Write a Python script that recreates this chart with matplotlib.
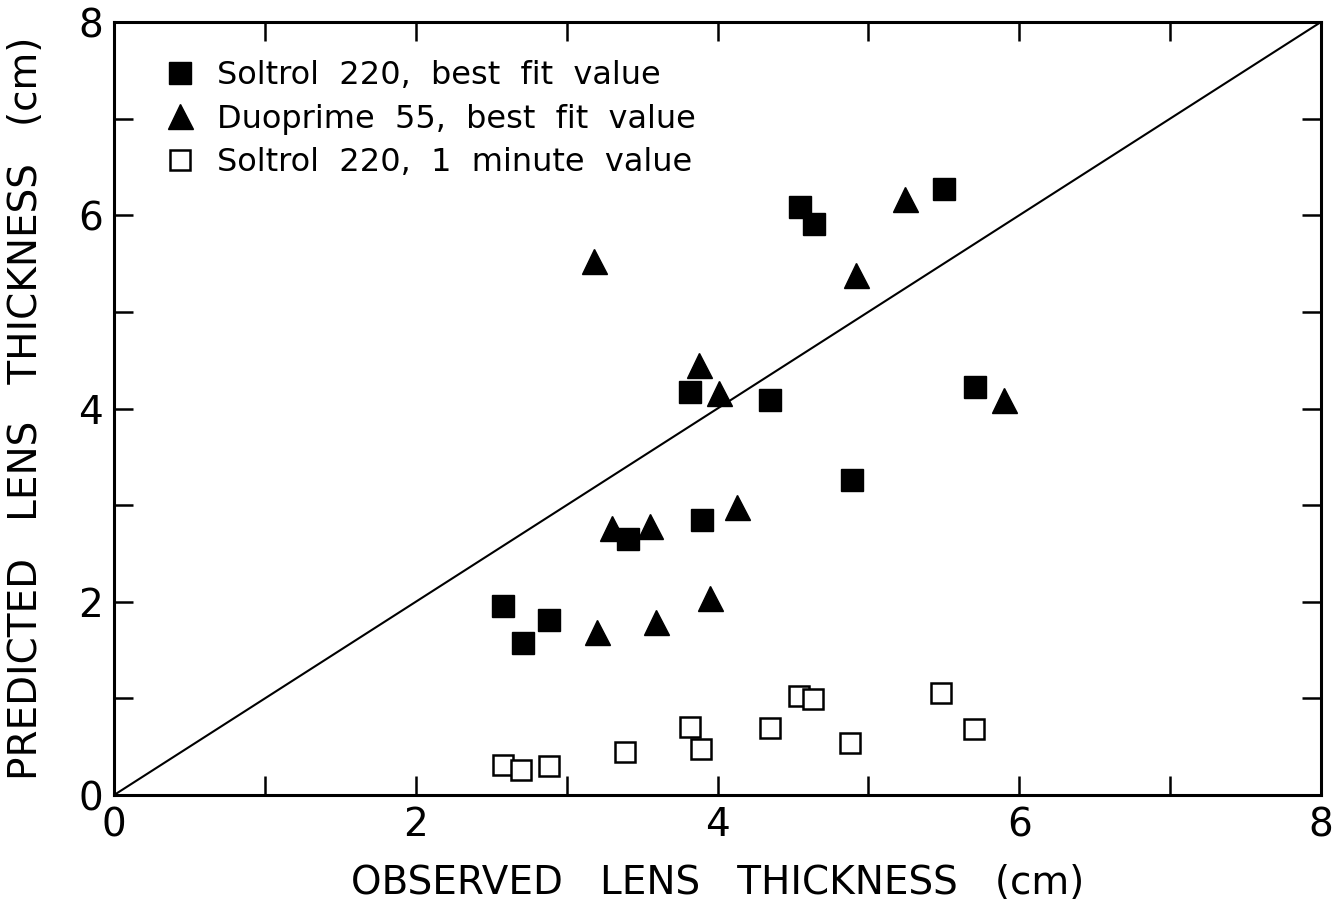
import numpy as np
import matplotlib.pyplot as plt

# Soltrol 220, best fit value (filled squares)
sol_obs = [2.58, 2.71, 2.88, 3.41, 3.82, 3.90, 4.35, 4.55, 4.64, 4.89, 5.50, 5.71]
sol_best = [1.96, 1.57, 1.81, 2.65, 4.17, 2.85, 4.09, 6.09, 5.91, 3.26, 6.27, 4.22]

# Duoprime 55, best fit value (filled triangles)
duo_obs = [3.18, 3.88, 4.01, 3.30, 3.55, 4.13, 3.20, 3.59, 3.95, 4.92, 5.24, 5.90]
duo_best = [5.53, 4.45, 4.16, 2.76, 2.78, 2.98, 1.69, 1.79, 2.04, 5.38, 6.17, 4.09]

# Soltrol 220, 1 minute value (open squares)
sol1_obs = [2.58, 2.70, 2.88, 3.39, 3.82, 3.89, 4.35, 4.54, 4.63, 4.88, 5.48, 5.70]
sol1_pred = [0.31, 0.26, 0.30, 0.45, 0.70, 0.48, 0.69, 1.02, 0.99, 0.54, 1.06, 0.68]

labels = ["Soltrol  220,  best  fit  value",
          "Duoprime  55,  best  fit  value",
          "Soltrol  220,  1  minute  value"]

plt.rcParams['font.family'] = ['DejaVu Sans']

fig = plt.figure(figsize=(13.37, 9.17), dpi=100)
ax = fig.add_axes([0.0853, 0.133, 0.9027, 0.843])

ax.plot([0, 8], [0, 8], color="black", lw=1.5, zorder=1)

ax.plot(sol_obs, sol_best, ls="none", marker="s", ms=16, color="black",
        label=labels[0], zorder=3)
ax.plot(duo_obs, duo_best, ls="none", marker="^", ms=18, color="black",
        label=labels[1], zorder=3)
ax.plot(sol1_obs, sol1_pred, ls="none", marker="s", ms=15, mfc="white",
        mec="black", mew=1.8, label=labels[2], zorder=2)

ax.set_xlim(0, 8)
ax.set_ylim(0, 8)
ax.set_xticks(range(0, 9))
ax.set_yticks(range(0, 9))
ax.set_xticklabels([str(i) if i % 2 == 0 else "" for i in range(9)])
ax.set_yticklabels([str(i) if i % 2 == 0 else "" for i in range(9)])
ax.tick_params(direction="in", length=14, width=1.8, top=True, right=True,
               labelsize=28, pad=8)
for s in ax.spines.values():
    s.set_linewidth(2.2)

ax.set_xlabel("OBSERVED   LENS   THICKNESS   (cm)", fontsize=28, labelpad=14)
ax.set_ylabel("PREDICTED   LENS   THICKNESS   (cm)", fontsize=28, labelpad=24)

ax.legend(loc="upper left", frameon=False, fontsize=23, handletextpad=0.55,
          labelspacing=0.4, borderaxespad=0, borderpad=0, handlelength=1.2,
          bbox_to_anchor=(0.039, 0.951))

fig.savefig("out.png", dpi=100)
